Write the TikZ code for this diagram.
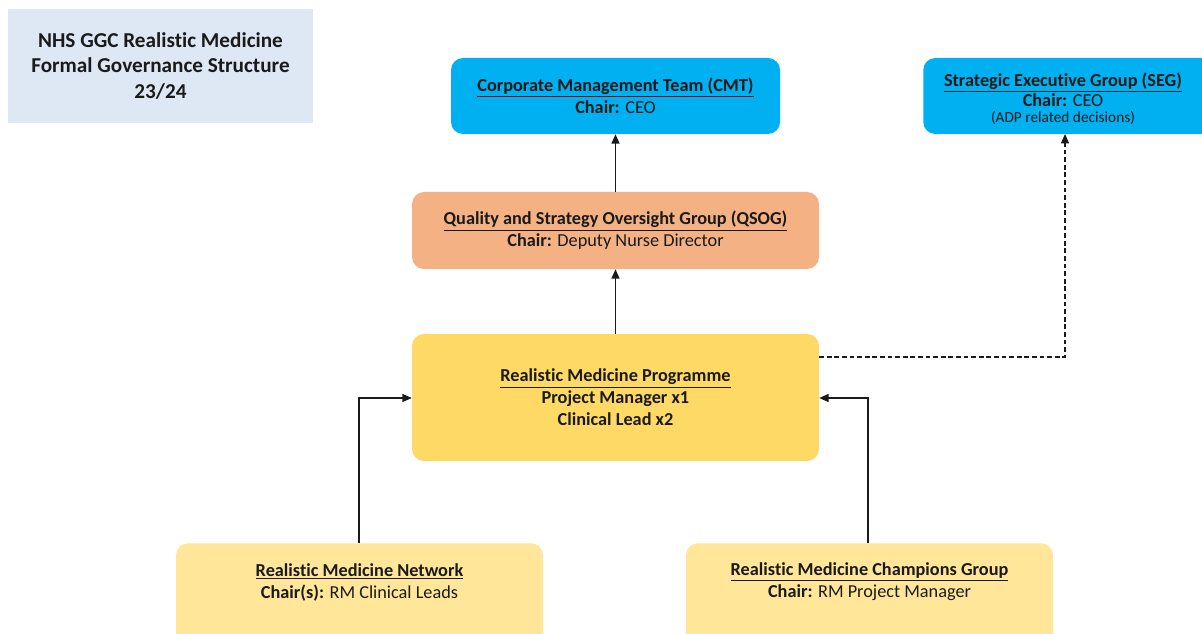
\documentclass[tikz,border=0pt]{standalone}
\usepackage{fontspec}
\setmainfont[RawFeature={-liga}]{Carlito}
\usetikzlibrary{arrows.meta}
\definecolor{titlebg}{HTML}{DEE8F4}
\definecolor{cmtblue}{HTML}{00B0F0}
\definecolor{qsogor}{HTML}{F4B183}
\definecolor{rmpyel}{HTML}{FFD966}
\definecolor{lowyel}{HTML}{FFE699}
\definecolor{txt}{HTML}{1A1A1A}
\begin{document}
\begin{tikzpicture}[x=0.75pt,y=-0.75pt,
  box/.style={rounded corners=9pt, inner sep=0pt, align=center, text=txt,
    font=\fontsize{13.7}{16.5}\selectfont},
  conn/.style={line width=0.9pt, draw=txt, -{Triangle[length=7pt,width=6pt]}},
  dconn/.style={line width=0.9pt, draw=txt, dash pattern=on 3.5pt off 2.2pt, -{Triangle[length=7pt,width=6pt]}}]
\clip (0,0) rectangle (1202,634);
\useasboundingbox (0,0) rectangle (1202,634);
\fill[white] (0,0) rectangle (1202,634);

% title
\node[fill=titlebg, inner sep=0pt, minimum width=305*0.75pt, minimum height=114*0.75pt, align=center,
  font=\bfseries\fontsize{15.9}{18.8}\selectfont, text=txt] (title) at (160.5,66)
  {NHS GGC Realistic Medicine\\Formal Governance Structure\\23/24};

% CMT
\node[box, fill=cmtblue, minimum width=329*0.75pt, minimum height=76*0.75pt] (cmt) at (615.5,96)
  {\textbf{\underline{Corporate Management Team (CMT)}}\\\textbf{Chair:} CEO};

% SEG
\node[box, fill=cmtblue, minimum width=290*0.75pt, minimum height=76*0.75pt, anchor=west] (seg) at (923,96)
  {};
\node[align=center, text=txt, inner sep=0pt] (segtxt) at (1063,98.5)
  {\fontsize{13.7}{16}\selectfont\textbf{\underline{Strategic Executive Group (SEG)}}\\
   \fontsize{13.7}{16.5}\selectfont\textbf{Chair:} CEO\\
   \fontsize{11.5}{17.5}\selectfont(ADP related decisions)};
\coordinate (segb) at (1065,134);

% QSOG
\node[box, fill=qsogor, minimum width=407*0.75pt, minimum height=77*0.75pt] (qsog) at (615.5,230.5)
  {\textbf{\underline{Quality and Strategy Oversight Group (QSOG)}}\\\textbf{Chair:} Deputy Nurse Director};

% RMP
\node[box, fill=rmpyel, minimum width=407*0.75pt, minimum height=127*0.75pt] (rmp) at (615.5,397.5)
  {\textbf{\underline{Realistic Medicine Programme}}\\\textbf{Project Manager x1}\\\textbf{Clinical Lead x2}};

% bottom boxes
\node[box, fill=lowyel, minimum width=367*0.75pt, minimum height=120*0.75pt, anchor=north] (net) at (359.5,543) {};
\node[align=center, text=txt, inner sep=0pt, font=\fontsize{13.7}{16.5}\selectfont] (nettxt) at (359.5,582)
  {\textbf{\underline{Realistic Medicine Network}}\\\textbf{Chair(s):} RM Clinical Leads};
\node[box, fill=lowyel, minimum width=367*0.75pt, minimum height=120*0.75pt, anchor=north] (champ) at (869.5,543) {};
\node[align=center, text=txt, inner sep=0pt, font=\fontsize{13.7}{16.5}\selectfont] (champtxt) at (869.5,582)
  {\textbf{\underline{Realistic Medicine Champions Group}}\\\textbf{Chair:} RM Project Manager};

% connectors
\draw[conn] (qsog.north) -- (cmt.south);
\draw[conn] (rmp.north) -- (qsog.south);
\draw[conn] (net.north -| 359,0) |- (rmp.west |- 0,398);
\draw[conn] (champ.north -| 868,0) |- (rmp.east |- 0,398);
\draw[dconn] (rmp.east |- 0,357) -| (segb);
\end{tikzpicture}
\end{document}
